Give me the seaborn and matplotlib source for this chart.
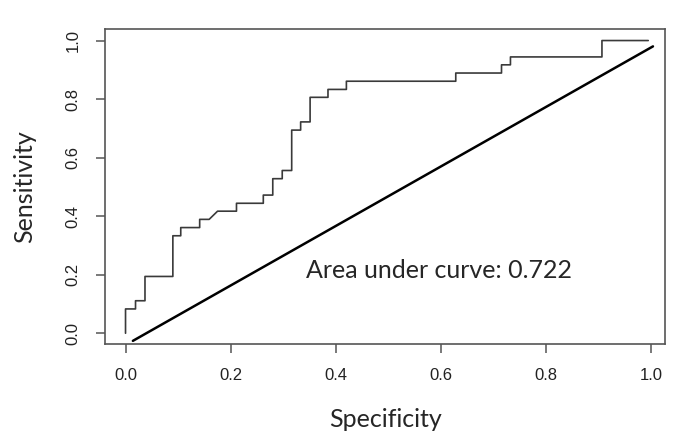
"""ROC curve: sensitivity vs specificity with reference diagonal."""
import matplotlib
matplotlib.use('Agg')
import matplotlib.pyplot as plt
import seaborn as sns
import pandas as pd

# ROC vertices
specificity = [0, 0, 0.019, 0.019, 0.037, 0.037, 0.090, 0.090, 0.105, 0.105,
               0.141, 0.141, 0.159, 0.175, 0.211, 0.211, 0.262, 0.262, 0.280, 0.280,
               0.298, 0.298, 0.316, 0.316, 0.333, 0.333, 0.351, 0.351, 0.385, 0.385,
               0.420, 0.420, 0.628, 0.628, 0.715, 0.715, 0.732, 0.732, 0.906, 0.906,
               0.994]
sensitivity = [0, 0.083, 0.083, 0.111, 0.111, 0.194, 0.194, 0.333, 0.333, 0.361,
               0.361, 0.389, 0.389, 0.417, 0.417, 0.444, 0.444, 0.472, 0.472, 0.528,
               0.528, 0.556, 0.556, 0.694, 0.694, 0.722, 0.722, 0.806, 0.806, 0.833,
               0.833, 0.861, 0.861, 0.889, 0.889, 0.917, 0.917, 0.944, 0.944, 1.0,
               1.0]

# reference line endpoints
diag_x = [0.014, 1.003]
diag_y = [-0.026, 0.980]

ticks = [0.0, 0.2, 0.4, 0.6, 0.8, 1.0]
tick_labels = ['0.0', '0.2', '0.4', '0.6', '0.8', '1.0']
auc_text = 'Area under curve: 0.722'

sns.set_style('white')
label_font = ['Lato', 'DejaVu Sans']

roc = pd.DataFrame({'spec': specificity, 'sens': sensitivity})
diag = pd.DataFrame({'x': diag_x, 'y': diag_y})

fig = plt.figure(figsize=(6.78, 4.48), dpi=100)
ax = fig.add_axes([0.1549, 0.232, 0.826, 0.703])

sns.lineplot(data=roc, x='spec', y='sens', sort=False, estimator=None,
             color='#3a3a3a', linewidth=1.2, ax=ax)
sns.lineplot(data=diag, x='x', y='y', sort=False, estimator=None,
             color='black', linewidth=1.8, ax=ax)

ax.set_xlim(-0.039, 1.026)
ax.set_ylim(-0.037, 1.039)
ax.set_xticks(ticks)
ax.set_xticklabels(tick_labels)
ax.set_yticks(ticks)
ax.set_yticklabels(tick_labels, rotation=90, va='center')

for sp in ax.spines.values():
    sp.set_color('#555555')
    sp.set_linewidth(1.2)
ax.tick_params(axis='both', direction='out', length=6.5, width=1.1, color='#555555',
               labelsize=12, labelcolor='#222222', pad=11,
               bottom=True, left=True)
for lab in ax.get_xticklabels() + ax.get_yticklabels():
    lab.set_family(['Liberation Sans', 'DejaVu Sans'])

ax.set_xlabel('Specificity', fontsize=18, family=label_font, labelpad=18)
ax.set_ylabel('Sensitivity', fontsize=18, family=label_font, labelpad=21)

ax.text(0.343, 0.216, auc_text, fontsize=18, family=label_font,
        ha='left', va='center')

fig.savefig('out.png', dpi=100)
